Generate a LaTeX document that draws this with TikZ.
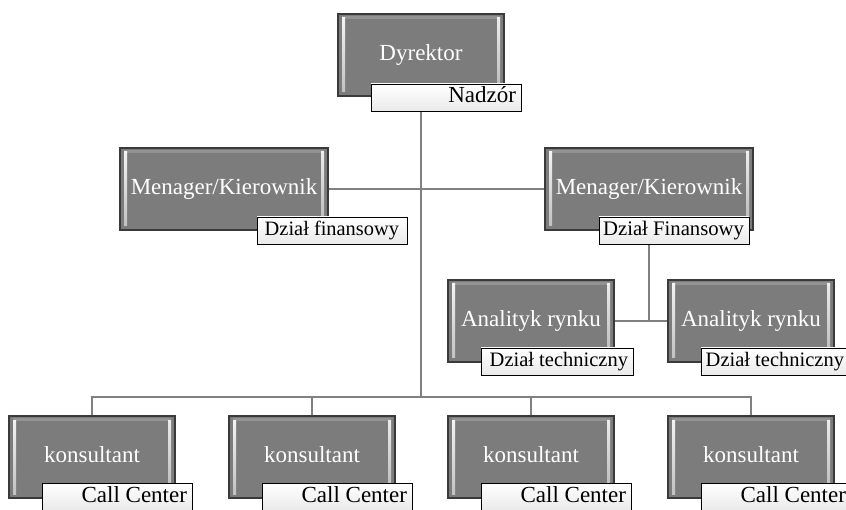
\documentclass[tikz,border=0pt]{standalone}
\usepackage{fontspec}
\setmainfont{Liberation Serif}
\usetikzlibrary{backgrounds}

\definecolor{boxfill}{RGB}{124,124,124}
\definecolor{boxedge}{RGB}{58,58,58}
\definecolor{linkgray}{RGB}{128,128,128}
\definecolor{tagbottom}{RGB}{234,234,234}

\tikzset{
  rolebox/.style={draw=boxedge, fill=boxfill, line width=1.1pt,
    minimum width=166pt, minimum height=82pt, inner sep=0pt,
    text=white, font=\fontsize{23}{26}\selectfont,
    path picture={
      % bevel highlights along the left and right edges
      \shade[top color=white!92!gray, bottom color=white!50!gray]
        ([xshift=4pt,yshift=-4pt]path picture bounding box.north west) rectangle
        ([xshift=7pt,yshift=4pt]path picture bounding box.south west);
      \shade[top color=white!85!gray, bottom color=white!45!gray]
        ([xshift=-7pt,yshift=-4pt]path picture bounding box.north east) rectangle
        ([xshift=-4pt,yshift=4pt]path picture bounding box.south east);
      % lighter top rim
      \fill[white, opacity=0.18]
        ([xshift=4pt,yshift=-2pt]path picture bounding box.north west) rectangle
        ([xshift=-4pt,yshift=-5pt]path picture bounding box.north east);
    }},
  widebox/.style={rolebox, minimum width=208pt},
  tag/.style={draw=black, line width=0.9pt, top color=white, bottom color=tagbottom,
    minimum width=150pt, minimum height=27pt, inner xsep=5pt, inner ysep=0pt,
    text height=15pt, text depth=4pt,
    text=black, font=\fontsize{23}{26}\selectfont},
  link/.style={draw=linkgray, line width=2.6pt}
}

\newcommand{\up}[1]{\raisebox{4pt}{#1}}
\newcommand{\rt}[2][140pt]{\makebox[#1][r]{#2}}

\begin{document}
\begin{tikzpicture}[x=1pt, y=-1pt]
  \clip (0,0) rectangle (846,510);

  % top level
  \node[rolebox] (dyr) at (421,55) {\up{Dyrektor}};
  \node[tag] (dyrtag) at (446,97.5) {\rt{Nadzór}};

  % managers
  \node[widebox] (man1) at (224,189) {\up{Menager/Kierownik}};
  \node[tag, font=\fontsize{20.4}{24}\selectfont] (man1tag) at (332,230.5) {\rt[134pt]{Dział finansowy}};
  \node[widebox] (man2) at (649,189) {\up{Menager/Kierownik}};
  \node[tag, font=\fontsize{20.7}{24}\selectfont] (man2tag) at (674,230.5) {\rt{Dział Finansowy}};

  % analysts
  \node[rolebox] (ana1) at (531,321) {\up{Analityk rynku}};
  \node[tag, font=\fontsize{20.5}{24}\selectfont] (ana1tag) at (557,361.5) {\rt[142pt]{Dział techniczny}};
  \node[rolebox] (ana2) at (751,321) {\up{Analityk rynku}};
  \node[tag, minimum width=146pt, font=\fontsize{20.5}{24}\selectfont] (ana2tag) at (775,361.5) {\rt[138pt]{Dział techniczny}};

  % consultants
  \node[rolebox] (kon1) at (92,457) {\up{konsultant}};
  \node[tag] (kon1tag) at (117,496.5) {\rt{Call Center}};
  \node[rolebox] (kon2) at (312,457) {\up{konsultant}};
  \node[tag] (kon2tag) at (337,496.5) {\rt{Call Center}};
  \node[rolebox] (kon3) at (531,457) {\up{konsultant}};
  \node[tag] (kon3tag) at (556,496.5) {\rt{Call Center}};
  \node[rolebox] (kon4) at (751,457) {\up{konsultant}};
  \node[tag] (kon4tag) at (776,496.5) {\rt{Call Center}};

  \coordinate (bus) at (421,397);

  \begin{pgfonlayer}{background}
    \fill[white] (0,0) rectangle (846,510);
    % trunk from the director down to the consultant bus
    \draw[link] (dyrtag.south -| dyr.center) -- (bus);
    % managers
    \draw[link] (man1.east) -- (man2.west);
    % analysts under the right manager
    \draw[link] (man2tag.south -| man2.center) -- (man2.center |- ana1.east);
    \draw[link] (ana1.east) -- (ana2.west);
    % consultant bus and drops
    \draw[link] (kon1.north) -- (kon1.north |- bus) -- (kon4.north |- bus) -- (kon4.north);
    \draw[link] (kon2.north) -- (kon2.north |- bus);
    \draw[link] (kon3.north) -- (kon3.north |- bus);
  \end{pgfonlayer}
\end{tikzpicture}
\end{document}
